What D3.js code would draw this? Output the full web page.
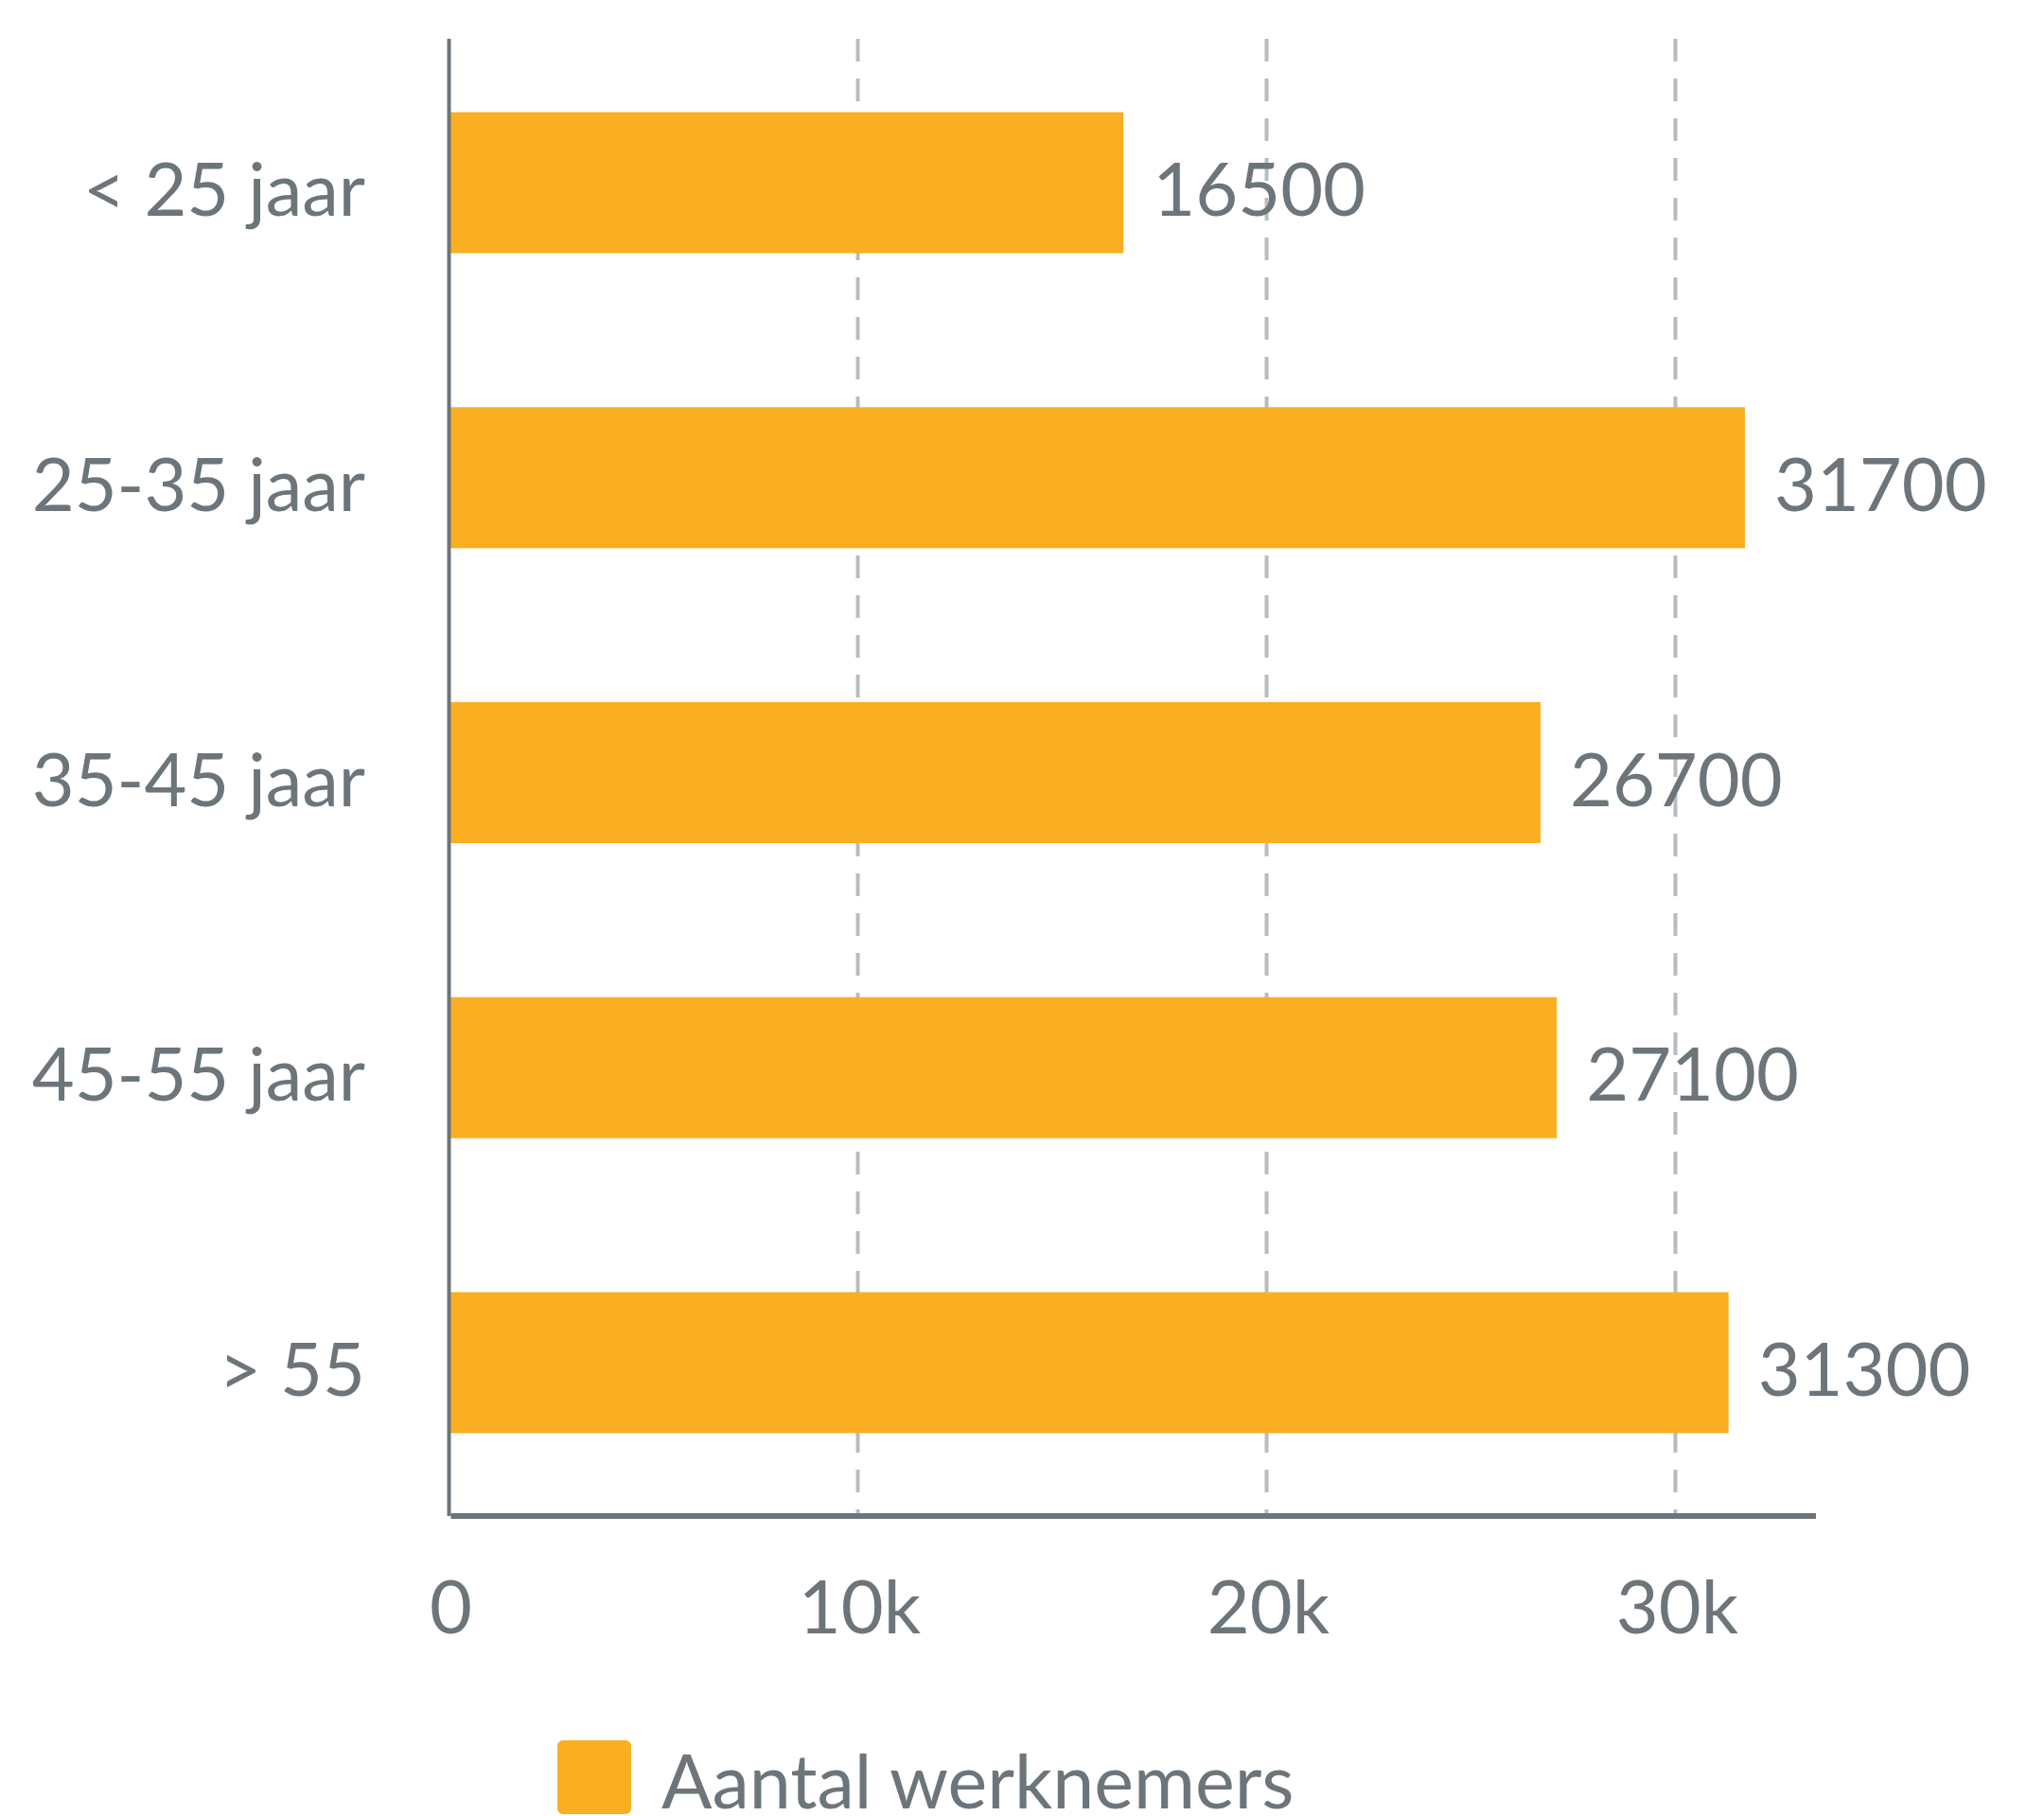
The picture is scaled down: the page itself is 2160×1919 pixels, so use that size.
<!DOCTYPE html>
<html>
<head>
<meta charset="utf-8">
<script src="https://cdn.jsdelivr.net/npm/d3@7"></script>
<style>
  html, body { margin: 0; padding: 0; background: #fff; }
  svg { display: block; }
</style>
</head>
<body>
<svg id="chart" width="2160" height="1919"></svg>
<script>
var categories = ["< 25 jaar", "25-35 jaar", "35-45 jaar", "45-55 jaar", "> 55"];
var values = [16500, 31700, 26700, 27100, 31300];
var xTicks = [0, 10000, 20000, 30000];
var tickLabels = ["0", "10k", "20k", "30k"];
var seriesName = "Aantal werknemers";

var barColor = "#f9af21";
var textColor = "#6c757a";
var gridColor = "#b9bcbf";
var fontFamily = "Lato, 'Noto Sans', sans-serif";
var fontSize = 77.5;

var plotLeft = 474.5;
var plotTop = 41;
var plotBottom = 1602;
var unitPx = 43.2; // pixels per 1000

var chart = d3.select("#chart");

var x = d3.scaleLinear()
    .domain([0, 10000])
    .range([plotLeft, plotLeft + unitPx * 10]);

var y = d3.scaleBand()
    .domain(categories)
    .range([37.5, 1595.5])
    .paddingInner(0.522)
    .paddingOuter(0.26);

// dashed grid lines
chart.append("g")
    .selectAll("line")
    .data(xTicks.slice(1))
    .enter()
    .append("line")
    .attr("x1", function(d) { return x(d); })
    .attr("x2", function(d) { return x(d); })
    .attr("y1", plotTop)
    .attr("y2", plotBottom)
    .attr("stroke", gridColor)
    .attr("stroke-width", 4)
    .attr("stroke-dasharray", "24 18");

// bars
chart.append("g")
    .selectAll("rect")
    .data(values)
    .enter()
    .append("rect")
    .attr("x", x(0))
    .attr("y", function(d, i) { return y(categories[i]); })
    .attr("width", function(d) { return x(d) - x(0); })
    .attr("height", y.bandwidth())
    .attr("fill", barColor);

// value labels
chart.append("g")
    .selectAll("text")
    .data(values)
    .enter()
    .append("text")
    .attr("x", function(d) { return x(d) + 31; })
    .attr("y", function(d, i) { return y(categories[i]) + y.bandwidth() / 2 + 35; })
    .attr("font-family", fontFamily)
    .attr("font-size", fontSize)
    .attr("fill", textColor)
    .text(function(d) { return d; });

// category labels
chart.append("g")
    .selectAll("text")
    .data(categories)
    .enter()
    .append("text")
    .attr("x", 386)
    .attr("y", function(d) { return y(d) + y.bandwidth() / 2 + 35; })
    .attr("text-anchor", "end")
    .attr("font-family", fontFamily)
    .attr("font-size", fontSize)
    .attr("fill", textColor)
    .text(function(d) { return d; });

// tick labels
chart.append("g")
    .selectAll("text")
    .data(xTicks)
    .enter()
    .append("text")
    .attr("x", function(d) { return x(d) + 2; })
    .attr("y", 1726)
    .attr("text-anchor", "middle")
    .attr("font-family", fontFamily)
    .attr("font-size", fontSize)
    .attr("fill", textColor)
    .text(function(d, i) { return tickLabels[i]; });

// axes
chart.append("line")
    .attr("x1", plotLeft)
    .attr("x2", plotLeft)
    .attr("y1", plotTop)
    .attr("y2", plotBottom)
    .attr("stroke", textColor)
    .attr("stroke-width", 4);

chart.append("line")
    .attr("x1", plotLeft + 2)
    .attr("x2", 1919)
    .attr("y1", plotBottom)
    .attr("y2", plotBottom)
    .attr("stroke", textColor)
    .attr("stroke-width", 6);

// legend
var legend = chart.append("g");
legend.append("rect")
    .attr("x", 589)
    .attr("y", 1839)
    .attr("width", 78)
    .attr("height", 78)
    .attr("rx", 6)
    .attr("fill", barColor);
legend.append("text")
    .attr("x", 699)
    .attr("y", 1911)
    .attr("font-family", fontFamily)
    .attr("font-size", 79)
    .attr("fill", textColor)
    .text(seriesName);
</script>
</body>
</html>
